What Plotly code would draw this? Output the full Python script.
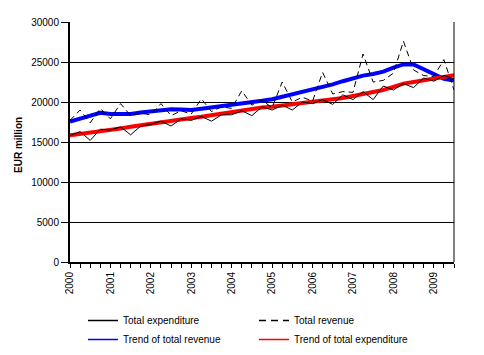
import plotly.graph_objects as go

quarters = [2000 + i * 0.25 for i in range(39)]

total_expenditure = [15800, 16300, 15200, 16600, 16500, 16900, 15900, 17000,
                     17200, 17600, 17000, 17900, 17700, 18200, 17600, 18400,
                     18400, 18900, 18300, 19400, 19000, 19600, 19000, 20000,
                     19800, 20300, 19700, 20900, 20300, 21300, 20300, 22000,
                     21500, 22300, 21800, 23000, 22600, 23300, 22900]

total_revenue = [17700, 19000, 17400, 19200, 17900, 19800, 18300, 18600,
                 18400, 19800, 18300, 18900, 18500, 20400, 18800, 19400,
                 19200, 21400, 19600, 20200, 19300, 22500, 20000, 20600,
                 20100, 23700, 21000, 21300, 21200, 26000, 22500, 22700,
                 23600, 27600, 24000, 23300, 23200, 25300, 21500]

trend_revenue = [17540, 17900, 18300, 18650, 18500, 18450, 18500, 18700,
                 18850, 19000, 19080, 19050, 19000, 19150, 19300, 19450,
                 19650, 19800, 19950, 20150, 20350, 20650, 21000, 21300,
                 21600, 21900, 22200, 22600, 23000, 23300, 23500, 23800,
                 24300, 24700, 24700, 24100, 23400, 22900, 22700]

trend_expenditure = [15850, 16000, 16200, 16400, 16550, 16700, 16900, 17100,
                     17300, 17500, 17650, 17800, 18000, 18150, 18350, 18550,
                     18700, 18900, 19100, 19300, 19400, 19550, 19700, 19800,
                     19950, 20150, 20300, 20500, 20750, 21000, 21200, 21500,
                     21900, 22300, 22500, 22700, 22900, 23100, 23350]

year_ticks = list(range(2000, 2010))
year_labels = [str(y) for y in year_ticks]

FONT = "Liberation Sans, Arial, sans-serif"

# the page body has an 8px margin, so positions are given in figure pixels
OFF = 8
W, H = 484, 355

fig = go.Figure()

# visible data traces (no legend)
fig.add_trace(go.Scatter(x=quarters, y=trend_revenue, mode="lines",
                         line=dict(color="#0000FF", width=4), showlegend=False))
fig.add_trace(go.Scatter(x=quarters, y=trend_expenditure, mode="lines",
                         line=dict(color="#FF0000", width=4), showlegend=False))
fig.add_trace(go.Scatter(x=quarters, y=total_expenditure, mode="lines",
                         line=dict(color="black", width=1), showlegend=False))
fig.add_trace(go.Scatter(x=quarters, y=total_revenue, mode="lines",
                         line=dict(color="black", width=1, dash="6px,4px"),
                         showlegend=False))

# legend entries: two columns as two legends
legend_items = [
    ("Total expenditure", dict(color="black", width=1.5), "legend"),
    ("Trend of total revenue", dict(color="#0000FF", width=1.5), "legend"),
    ("Total revenue", dict(color="black", width=1.5, dash="7px,5px"), "legend2"),
    ("Trend of total expenditure", dict(color="#FF0000", width=1.5), "legend2"),
]
for name, ln, lg in legend_items:
    fig.add_trace(go.Scatter(x=[None], y=[None], mode="lines", name=name,
                             line=ln, legend=lg))

legend_common = dict(orientation="v", xref="container", yref="container",
                     xanchor="left", yanchor="top",
                     font=dict(family=FONT, size=10, color="black"),
                     itemwidth=30, traceorder="normal",
                     bgcolor="rgba(0,0,0,0)")

leg_top = 306 - OFF
fig.update_layout(
    width=W, height=H,
    margin=dict(l=70 - OFF, r=W - (454 - OFF), t=22 - OFF, b=H - (262 - OFF),
                autoexpand=False),
    paper_bgcolor="white", plot_bgcolor="white",
    font=dict(family=FONT, size=10, color="black"),
    showlegend=True,
    legend=dict(x=(83 - OFF) / W, y=1 - leg_top / H, **legend_common),
    legend2=dict(x=(254 - OFF) / W, y=1 - leg_top / H, **legend_common),
    xaxis=dict(range=[2000, 2009.5], tickmode="array", tickvals=year_ticks,
               ticktext=year_labels, tickangle=-90, showgrid=False,
               showline=True, linecolor="black", linewidth=2,
               ticks="outside", ticklen=4, tickcolor="black",
               minor=dict(dtick=0.25, tick0=2000, ticks="outside", ticklen=4,
                          tickcolor="black", showgrid=False),
               zeroline=False, tickfont=dict(size=10)),
    yaxis=dict(range=[0, 30000], dtick=5000, tickformat="d",
               showgrid=True, gridcolor="black",
               gridwidth=1, showline=True, linecolor="black", linewidth=2,
               ticks="outside", ticklen=7, tickcolor="black", zeroline=False,
               tickfont=dict(size=10)),
    annotations=[dict(text="<b>EUR million</b>", xref="paper", yref="paper",
                      x=0, y=0.5, xanchor="center", yanchor="middle",
                      xshift=-52, yshift=-3, textangle=-90, showarrow=False,
                      font=dict(family=FONT, size=10, color="black"))],
    shapes=[dict(type="line", xref="paper", yref="paper", x0=1, x1=1, y0=0, y1=1,
                 line=dict(color="black", width=1))],
)

fig.write_html("out.html")
